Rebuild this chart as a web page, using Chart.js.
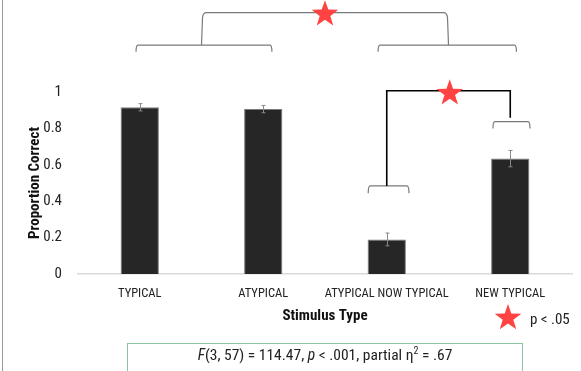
<!DOCTYPE html>
<html>
<head>
<meta charset="utf-8">
<script src="https://cdn.jsdelivr.net/npm/chart.js@4/dist/chart.umd.min.js"></script>
<style>
  html, body { margin: 0; padding: 0; background: #fff; }
  #wrap { position: relative; width: 581px; height: 371px; overflow: hidden; }
  #c { position: absolute; left: 0; top: 0; }
  #lborder { position: absolute; left: 2px; top: 0; width: 1px; height: 371px; background: #9a9a9a; }
  #sig { position: absolute; left: 530px; top: 310px; font: 15px 'Roboto Condensed', 'DejaVu Sans Condensed', sans-serif; color: #222; line-height: 18px; }
  #stat { position: absolute; left: 127px; top: 343px; width: 396px; height: 40px; border: 1px solid #8cc6a0; box-sizing: border-box;
          text-align: center; font: 15.5px 'Roboto Condensed', 'DejaVu Sans Condensed', sans-serif; color: #222; line-height: 23px; }
</style>
</head>
<body>
<div id="wrap">
  <canvas id="c" width="581" height="371"></canvas>
  <div id="lborder"></div>
  <div id="sig">p &lt; .05</div>
  <div id="stat"><i>F</i>(3, 57) = 114.47, <i>p</i> &lt; .001, partial η<sup style="font-size:10px;line-height:0">2</sup> = .67</div>
</div>
<script>
// ---- data ----
const categories = ['TYPICAL', 'ATYPICAL', 'ATYPICAL NOW TYPICAL', 'NEW TYPICAL'];
const proportionCorrect = [0.916, 0.906, 0.19, 0.634];
const standardError = [0.02, 0.02, 0.035, 0.045];
const yTicks = [0, 0.2, 0.4, 0.6, 0.8, 1];
const yTickLabels = ['0', '0.2', '0.4', '0.6', '0.8', '1'];
// significance annotations in category-index / value units
const groupBrackets = [ { from: -0.03, to: 1.07, y: 1.258, tip: 1.221 }, { from: 1.93, to: 3.05, y: 1.258, tip: 1.221 } ];
const topBracket = { from: 0.5, to: 2.5, y: 1.436, low: 1.258, star: 1.5 };
const pairBrackets = [ { from: 1.85, to: 2.18, y: 0.484, tip: 0.443 }, { from: 2.86, to: 3.16, y: 0.837, tip: 0.80 } ];
const blackBracket = { from: 2.0, to: 3.0, y: 1.007, lowLeft: 0.484, lowRight: 0.859, star: 2.51 };

const FONT = "'Roboto Condensed', 'DejaVu Sans Condensed', sans-serif";
const STAR_COLOR = '#ff4343';

function drawStar(ctx, cx, cy, R) {
  const r = R * 0.4;
  ctx.beginPath();
  for (let i = 0; i < 10; i++) {
    const ang = -Math.PI / 2 + i * Math.PI / 5;
    const rad = i % 2 === 0 ? R : r;
    const px = cx + rad * Math.cos(ang), py = cy + rad * Math.sin(ang);
    if (i === 0) ctx.moveTo(px, py); else ctx.lineTo(px, py);
  }
  ctx.closePath();
  ctx.fillStyle = STAR_COLOR;
  ctx.fill();
}

const annotations = {
  id: 'annotations',
  afterDatasetsDraw(chart) {
    const ctx = chart.ctx;
    const xs = chart.scales.x, ys = chart.scales.y;
    const X = v => xs.getPixelForValue(0) + v * (xs.getPixelForValue(1) - xs.getPixelForValue(0));
    const Y = v => ys.getPixelForValue(v);
    ctx.save();
    // error bars
    const meta = chart.getDatasetMeta(0);
    ctx.strokeStyle = '#8a8a8a';
    ctx.lineWidth = 1;
    meta.data.forEach((bar, i) => {
      const x = Math.round(bar.x) + 0.5;
      const yt = Y(proportionCorrect[i] + standardError[i]);
      const yb = Y(proportionCorrect[i] - standardError[i]);
      ctx.beginPath();
      ctx.moveTo(x, yt); ctx.lineTo(x, yb);
      ctx.moveTo(x - 2, yt); ctx.lineTo(x + 2, yt);
      ctx.moveTo(x - 2, yb); ctx.lineTo(x + 2, yb);
      ctx.stroke();
    });
    // gray brackets
    ctx.strokeStyle = '#7a7a7a';
    ctx.lineWidth = 1.2;
    [...groupBrackets, ...pairBrackets].forEach(b => {
      const x1 = X(b.from), x2 = X(b.to), y = Y(b.y), yt = Y(b.tip);
      ctx.beginPath();
      ctx.moveTo(x1, yt); ctx.quadraticCurveTo(x1, y, x1 + 2, y);
      ctx.lineTo(x2 - 2, y); ctx.quadraticCurveTo(x2, y, x2, yt);
      ctx.stroke();
    });
    // top curly bracket
    {
      const x1 = X(topBracket.from), x2 = X(topBracket.to), y = Y(topBracket.y), yl = Y(topBracket.low);
      ctx.beginPath();
      ctx.moveTo(x1, yl); ctx.lineTo(x1 + 1, y + 5); ctx.quadraticCurveTo(x1 + 1.5, y, x1 + 5, y);
      ctx.lineTo(x2 - 5, y); ctx.quadraticCurveTo(x2 - 1.5, y, x2 - 1, y + 5); ctx.lineTo(x2, yl);
      ctx.stroke();
    }
    // black bracket
    {
      const b = blackBracket;
      ctx.strokeStyle = '#000';
      ctx.lineWidth = 1.6;
      ctx.beginPath();
      ctx.moveTo(X(b.from), Y(b.lowLeft)); ctx.lineTo(X(b.from), Y(b.y));
      ctx.lineTo(X(b.to), Y(b.y)); ctx.lineTo(X(b.to), Y(b.lowRight));
      ctx.stroke();
    }
    // stars
    drawStar(ctx, X(topBracket.star), Y(topBracket.y) + 1.5, 14);
    drawStar(ctx, X(blackBracket.star), Y(blackBracket.y) + 2.5, 14);
    // legend star
    drawStar(ctx, chart.chartArea.right - 64, chart.chartArea.bottom + 44, 14);
    ctx.restore();
  }
};

new Chart(document.getElementById('c'), {
  type: 'bar',
  data: {
    labels: categories,
    datasets: [{
      data: proportionCorrect,
      backgroundColor: '#262626',
      borderColor: '#7a7a7a',
      borderWidth: 1,
      categoryPercentage: 1,
      barPercentage: 0.31
    }]
  },
  options: {
    responsive: false,
    animation: false,
    events: [],
    layout: { padding: { left: 0, right: 9, top: 92, bottom: 0 } },
    plugins: { legend: { display: false }, tooltip: { enabled: false } },
    scales: {
      x: {
        grid: { display: false, drawTicks: false },
        border: { color: '#d9d9d9', width: 1.5 },
        ticks: { color: '#222', font: { family: FONT, size: 12.5 }, padding: 12, maxRotation: 0, autoSkip: false },
        title: { display: true, text: 'Stimulus Type', color: '#111', font: { family: FONT, size: 15, weight: 'bold', lineHeight: 1.2 }, padding: { top: 0, bottom: 46 } },
        afterFit: s => { s.height = 97; }
      },
      y: {
        min: 0, max: 1,
        grid: { display: false, drawTicks: false },
        border: { display: false },
        afterBuildTicks: s => { s.ticks = yTicks.map(v => ({ value: v })); },
        ticks: { color: '#222', font: { family: FONT, size: 15 }, padding: 16, callback: (v, i) => yTickLabels[i] },
        title: { display: true, text: 'Proportion Correct', color: '#111', font: { family: FONT, size: 15, weight: 'bold', lineHeight: 1.2 }, padding: { top: 26, bottom: 0 } },
        afterFit: s => { s.width = 78; }
      }
    }
  },
  plugins: [annotations]
});
</script>
</body>
</html>
